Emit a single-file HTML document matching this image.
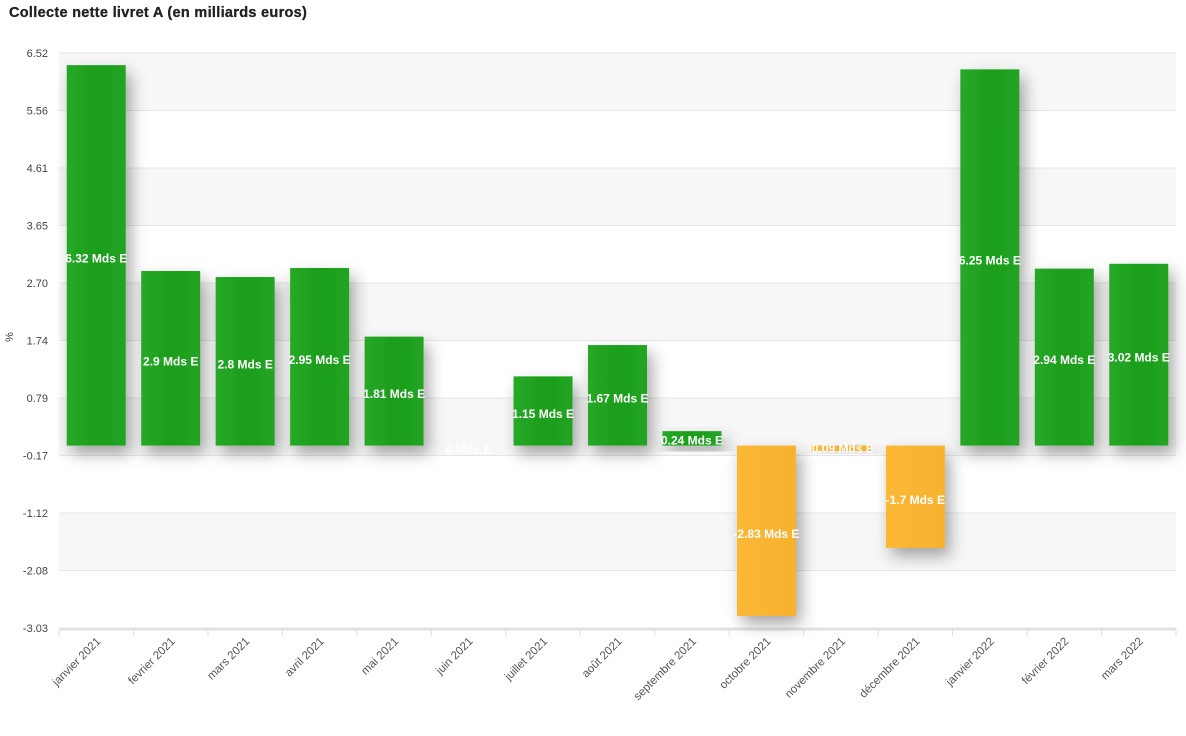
<!DOCTYPE html>
<html><head><meta charset="utf-8"><style>
html,body{margin:0;padding:0;background:#fff;width:1186px;height:736px;overflow:hidden}
svg text{font-family:"Liberation Sans",Arial,sans-serif}
</style></head><body>
<svg width="1186" height="736" viewBox="0 0 1186 736" xmlns="http://www.w3.org/2000/svg">
<defs>
<filter id="sh" x="-40%" y="-30%" width="190%" height="170%"><feDropShadow dx="5" dy="8" stdDeviation="8" flood-color="#000" flood-opacity="0.35"/></filter>
<linearGradient id="g" x1="0" x2="1"><stop offset="0" stop-color="#27a827"/><stop offset="0.5" stop-color="#1c9e1c"/><stop offset="1" stop-color="#22a422"/></linearGradient>
<linearGradient id="o" x1="0" x2="1"><stop offset="0" stop-color="#fbb836"/><stop offset="1" stop-color="#f7b12e"/></linearGradient>
</defs>
<text x="9" y="17" font-size="14.5" font-weight="bold" fill="#222" stroke="#222" stroke-width="0.3" letter-spacing="0.3">Collecte nette livret A (en milliards euros)</text>
<g id="bands"></g>
<g id="grid"></g>
<g id="bars"></g>
<g id="lbl"></g>
<text x="13" y="337" font-size="11" fill="#444" transform="rotate(-90 13 337)" text-anchor="middle">%</text>
</svg>
<script>
const ns="http://www.w3.org/2000/svg";
function el(p,t,a,txt){const e=document.createElementNS(ns,t);for(const k in a)e.setAttribute(k,a[k]);if(txt!==undefined)e.textContent=txt;document.getElementById(p).appendChild(e);return e;}
const ticks=["6.52","5.56","4.61","3.65","2.70","1.74","0.79","-0.17","-1.12","-2.08","-3.03"];
const y0=53,step=57.5;
for(let i=0;i<10;i++){if(i%2==0)el("bands","rect",{x:59,y:y0+i*step,width:1117,height:step,fill:"#f7f7f7"});}
ticks.forEach((t,i)=>{const y=y0+i*step;el("grid","line",{x1:59,x2:1176,y1:y,y2:y,stroke:"#e6e6e6","stroke-width":1});el("grid","text",{x:48,y:y+4,"font-size":11,fill:"#444","text-anchor":"end"},t);});
el("grid","line",{x1:59,x2:1176,y1:629.5,y2:629.5,stroke:"#e0e0e0","stroke-width":2});
const cats=["janvier 2021","fevrier 2021","mars 2021","avril 2021","mai 2021","juin 2021","juillet 2021","août 2021","septembre 2021","octobre 2021","novembre 2021","décembre 2021","janvier 2022","février 2022","mars 2022"];
const vals=[6.32,2.9,2.8,2.95,1.81,0,1.15,1.67,0.24,-2.83,-0.09,-1.7,6.25,2.94,3.02];
const cw=1117/15, z=445.6, k=60.2;
for(let i=0;i<=15;i++){const x=59+i*cw;el("grid","line",{x1:x,x2:x,y1:630,y2:636,stroke:"#ddd"});}
cats.forEach((c,i)=>{
 const cx=59+(i+0.5)*cw, v=vals[i];
 const top=v>=0?z-v*k:z, h=Math.abs(v)*k;
 if(h>0) el("bars","rect",{x:cx-29.5,y:top,width:59,height:h,fill:v>=0?"url(#g)":"url(#o)",filter:"url(#sh)"});
 let ly=top+h/2+7; if(h<20) ly=z+(v<0?7:-1);
 if(v==0) ly=z+8;
 el("lbl","text",{x:cx,y:ly,"font-size":12,"font-weight":"bold",fill:"#fff","text-anchor":"middle"},String(v)+" Mds E");
 const tx=cx+5, ty=642;
 el("lbl","text",{x:tx,y:ty,"font-size":11.5,fill:"#555","text-anchor":"end",transform:`rotate(-45 ${tx} ${ty})`},c);
});
</script>
</body></html>
